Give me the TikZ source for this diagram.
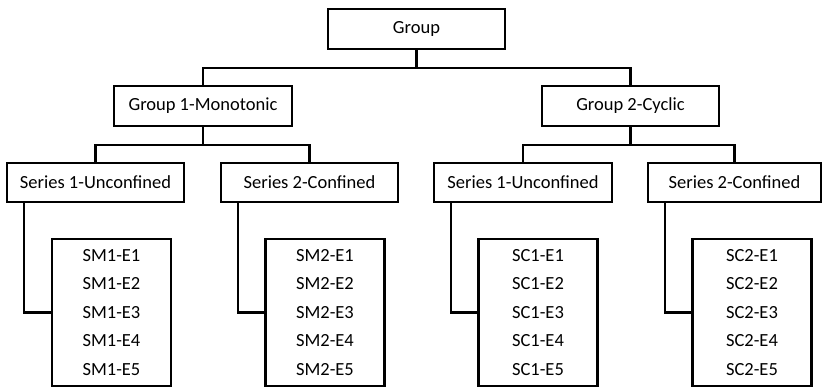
\documentclass[tikz,border=0pt]{standalone}
\usepackage{fontspec}
\setmainfont{Carlito}
\begin{document}
\begin{tikzpicture}[x=1pt,y=-1pt,
  box/.style={draw=black,line width=2.7pt,rectangle,inner sep=0pt,font=\fontsize{18.5}{22}\selectfont},
  leaf/.style={box,minimum width=119pt,minimum height=147pt,align=center,font=\fontsize{18.5}{28.5}\selectfont},
  conn/.style={draw=black,line width=2.3pt}]
\useasboundingbox (0,0) rectangle (822,387);
\node[box,minimum width=177pt,minimum height=40pt] (grp) at (416.5,29) {Group};
\node[box,minimum width=178pt,minimum height=40pt] (g1) at (203,106) {Group 1-Monotonic};
\node[box,minimum width=177pt,minimum height=40pt] (g2) at (630.5,106) {Group 2-Cyclic};
\node[box,minimum width=177pt,minimum height=39pt] (s11) at (95.5,182.5) {Series 1-Unconfined};
\node[box,minimum width=177pt,minimum height=39pt] (s12) at (309.5,182.5) {Series 2-Confined};
\node[box,minimum width=178pt,minimum height=39pt] (s21) at (523,182.5) {Series 1-Unconfined};
\node[box,minimum width=173pt,minimum height=39pt] (s22) at (734.5,182.5) {Series 2-Confined};
\node[leaf] (e11) at (111.5,312.5) {SM1-E1\\SM1-E2\\SM1-E3\\SM1-E4\\SM1-E5};
\node[leaf] (e12) at (325,312.5) {SM2-E1\\SM2-E2\\SM2-E3\\SM2-E4\\SM2-E5};
\node[leaf] (e21) at (538,312.5) {SC1-E1\\SC1-E2\\SC1-E3\\SC1-E4\\SC1-E5};
\node[leaf] (e22) at (752,312.5) {SC2-E1\\SC2-E2\\SC2-E3\\SC2-E4\\SC2-E5};
\draw[conn] (grp.south) -- ++(0,18) -| (g1.north);
\draw[conn] (grp.south) -- ++(0,18) -| (g2.north);
\draw[conn] (g1.south) -- ++(0,18) -| (s11.north);
\draw[conn] (g1.south) -- ++(0,18) -| (s12.north);
\draw[conn] (g2.south) -- ++(0,18) -| (s21.north);
\draw[conn] (g2.south) -- ++(0,18) -| (s22.north);
\draw[conn] (s11.south west) ++(18,0) |- (e11.west);
\draw[conn] (s12.south west) ++(18,0) |- (e12.west);
\draw[conn] (s21.south west) ++(18,0) |- (e21.west);
\draw[conn] (s22.south west) ++(18,0) |- (e22.west);
\end{tikzpicture}
\end{document}
